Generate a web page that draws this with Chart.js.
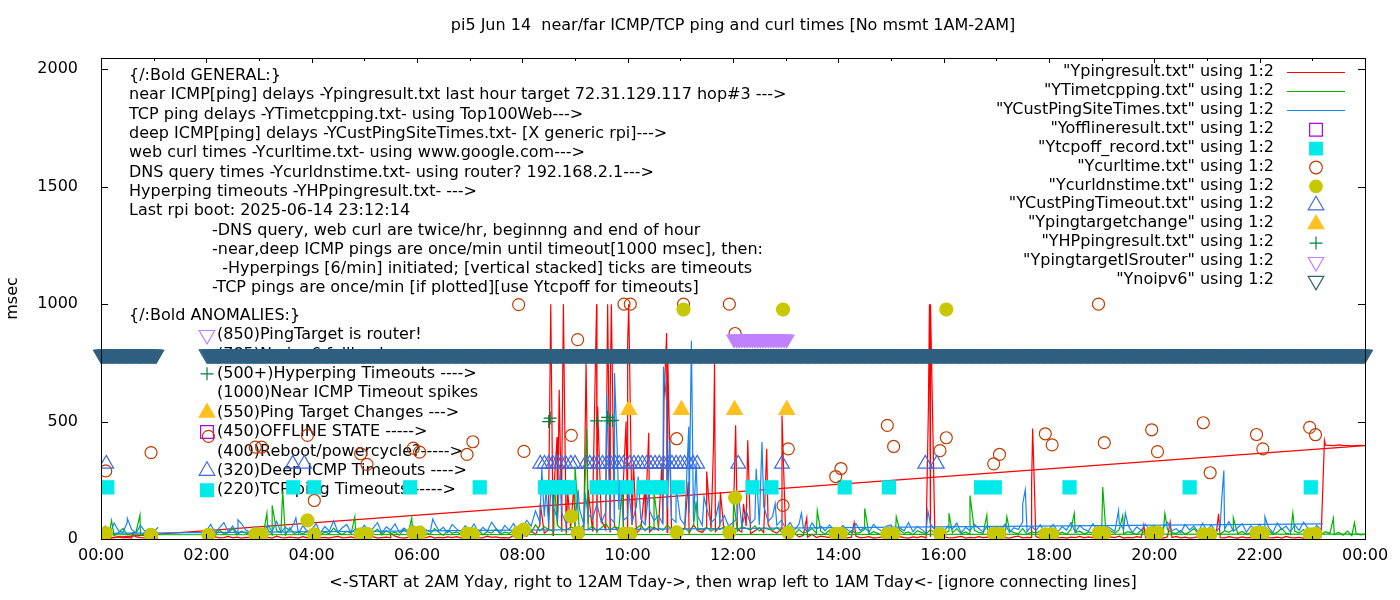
<!DOCTYPE html>
<html>
<head>
<meta charset="utf-8">
<script src="https://cdn.jsdelivr.net/npm/chart.js@4.4.1/dist/chart.umd.min.js"></script>
<style>
html, body { margin: 0; padding: 0; background: #fff; }
#chart { display: block; }
</style>
</head>
<body>
<canvas id="chart" width="1400" height="600"></canvas>
<script>
// x is hours of the day (0..24), y is msec
const xTicks = [0, 2, 4, 6, 8, 10, 12, 14, 16, 18, 20, 22, 24];
const yTicks = [0, 500, 1000, 1500, 2000];

// line series, one value every 5 minutes starting 00:00 (null = no measurement)
const pingBase = [
  5,8,4,6,10,5,7,4,9,6,5,8,
  6,5,null,null,null,null,null,null,null,null,null,null,
  7,4,9,5,6,11,5,8,4,7,6,5,
  9,5,7,4,12,6,5,8,6,4,10,5,
  6,9,5,7,4,8,11,5,6,9,4,7,
  5,7,10,4,6,8,5,12,6,4,7,9,
  8,5,6,11,4,7,5,9,6,10,5,6,
  4,8,6,5,12,7,9,5,6,4,15,8,
  20,12,35,18,60,25,40,15,55,30,22,45,
  30,50,20,65,35,25,80,40,30,55,28,45,
  35,60,25,45,70,30,50,38,65,28,42,55,
  30,45,25,60,35,28,50,40,32,55,26,38,
  25,40,30,55,22,35,48,28,60,33,25,42,
  18,12,25,9,15,8,20,6,12,9,7,10,
  6,9,5,8,12,5,7,10,4,6,9,5,
  7,5,10,6,4,9,6,11,5,8,6,4,
  9,6,5,8,11,4,7,5,10,6,8,5,
  5,8,6,4,9,12,5,7,6,10,4,8,
  6,10,5,7,4,8,6,11,5,9,6,4,
  8,5,9,6,12,4,7,5,10,6,5,8,
  5,7,4,9,6,11,5,8,4,6,10,5,
  7,4,8,6,5,10,6,4,9,5,7,6,
  4,9,6,5,8,4,11,6,5,7,4,9,
  6,5,8,400,399,398,401,399,398,397,398,399,
  398
];
const pingSpikes = [
  [0.6,25],[3.0,30],[5.5,25],
  [8.34,153],[8.50,180],[8.54,1000],[8.59,180],[8.66,434],[8.70,635],[8.75,294],[8.78,1000],
  [8.80,583],[8.86,209],[8.98,230],[9.21,748],[9.25,209],[9.34,188],[9.41,1000],[9.43,564],
  [9.59,273],[9.62,1000],[9.67,635],[9.69,1000],[9.92,251],[9.97,500],[10.0,834],[10.02,1000],
  [10.11,323],[10.33,223],[10.40,452],[10.65,323],[10.69,592],[10.74,877],[10.76,782],[11.15,244],
  [11.50,287],[11.63,400],[11.65,749],[11.76,200],[12.05,484],[12.2,150],[12.28,420],[12.64,384],
  [12.93,526],[13.4,90],[14.3,70],[15.71,556],[15.73,1000],[15.75,1000],[17.67,236],[17.69,470],
  [19.8,60],[20.3,72],[21.22,107],[23.23,420]
];
const pingWrap = [[0, 3], [24, 398]];

const tcpBase = [
  18,22,35,14,28,45,19,24,31,16,26,20,
  22,17,null,null,null,null,null,null,null,null,null,null,
  24,30,16,38,21,27,44,18,33,25,19,36,
  28,22,41,19,35,26,17,48,23,30,20,34,
  25,39,18,29,22,46,27,19,33,24,38,21,
  30,20,27,42,18,35,23,29,17,40,26,22,
  19,33,25,21,44,28,16,37,24,30,20,35,
  27,22,39,18,31,25,43,20,29,24,36,19,
  30,45,28,60,35,52,40,33,58,42,38,50,
  44,36,62,40,55,33,48,65,38,52,45,41,
  50,38,46,60,35,55,42,48,37,58,44,40,
  36,48,30,55,42,38,50,33,46,40,52,35,
  40,33,52,45,38,56,34,48,42,37,50,30,
  28,35,22,40,26,31,45,24,33,20,38,27,
  22,30,19,36,25,28,42,20,31,24,17,34,
  26,21,38,24,30,18,35,27,22,40,25,29,
  20,33,26,44,22,30,19,37,28,24,41,23,
  31,25,20,36,27,22,45,19,30,26,34,21,
  24,38,22,29,19,42,27,33,21,30,25,36,
  28,20,35,24,40,22,31,26,19,37,23,30,
  25,33,21,40,27,23,36,20,30,44,24,28,
  22,30,26,19,35,28,41,23,32,20,27,38,
  30,24,37,21,28,45,25,19,33,26,40,22,
  27,35,20,31,24,18,29,16,34,14,22,18,
  20
];
const tcpSpikes = [
  [0.2,79],[0.74,102],[3.15,110],[3.25,143],[3.45,205],[4.82,95],[5.9,90],[8.6,250],[9.0,310],
  [9.22,470],[9.9,240],[10.5,200],[11.3,160],[12.01,166],[13.6,120],[14.5,130],[15.1,95],
  [16.1,110],[16.5,185],[16.82,102],[17.2,95],[18.48,109],[19.02,221],[19.4,100],[20.2,109],
  [21.5,90],[22.63,111],[23.4,88],[23.8,70]
];
const tcpWrap = [[0, 18], [24, 21]];

const custBase = [
  30,55,24,68,35,28,72,40,26,58,33,45,
  28,50,null,null,null,null,null,null,null,null,null,null,
  35,62,27,48,70,30,55,25,66,38,29,52,
  44,26,60,32,75,28,50,36,68,24,57,31,
  40,65,27,53,33,78,29,48,62,26,44,35,
  58,30,46,70,25,52,38,64,28,47,33,60,
  27,55,40,30,68,35,50,26,62,43,31,57,
  36,64,28,50,33,72,45,27,58,38,66,30,
  48,80,55,120,70,95,60,140,85,110,65,90,
  75,130,60,105,85,150,70,115,90,68,125,80,
  95,70,140,85,60,120,78,100,65,130,88,72,
  85,60,110,75,95,58,130,70,88,64,100,55,
  70,90,55,120,65,85,60,140,75,95,58,80,
  45,70,38,62,50,30,68,42,55,35,60,40,
  32,58,40,27,66,36,50,29,62,44,33,55,
  60,28,47,35,70,31,54,40,26,63,38,49,
  30,56,42,68,27,50,35,62,45,29,58,37,
  52,33,64,28,48,40,72,31,55,36,60,27,
  44,62,30,53,38,70,29,57,41,34,66,39,
  28,55,46,32,68,40,60,27,52,37,63,34,
  58,30,49,71,35,44,26,62,39,55,30,67,
  36,60,28,52,42,74,33,48,65,29,56,40,
  62,34,50,27,68,41,55,30,60,37,72,45,
  33,58,40,null,null,null,null,null,null,null,null,null,
  null
];
const custSpikes = [
  [0.5,88],[2.6,82],[3.7,90],[6.3,85],[8.37,299],[8.45,209],[8.55,237],[8.72,294],[9.06,209],
  [9.2,180],[9.60,619],[9.75,707],[9.8,393],[9.85,251],[10.02,209],[10.2,266],[10.4,209],
  [10.68,734],[10.74,585],[10.8,422],[10.92,223],[11.16,478],[11.21,844],[11.3,323],[11.45,180],
  [11.73,152],[12.1,200],[12.44,299],[12.55,413],[12.8,150],[13.3,110],[15.7,120],[17.5,150],
  [17.55,210],[19.32,121],[19.45,110],[21.28,170],[21.32,292],[22.1,95]
];
const custWrap = [[0, 24], [23.2, 64]];

// point series: [hour, msec]
const offlinePts = [];
const tcpoffHours = [0.12, 3.65, 4.05, 5.87, 7.19, 8.43, 8.54, 8.65, 8.78, 8.89, 9.41, 9.55, 9.69,
  9.98, 10.30, 10.47, 10.63, 10.95, 12.37, 12.73, 14.12, 14.96, 16.71, 16.97, 18.39, 20.67, 22.97];
const tcpoffVal = 220;
const curlPts = [
  [0.09,290],[0.95,368],[2.04,437],[2.93,391],[3.05,391],[3.92,441],[4.05,164],[4.93,363],
  [5.05,318],[5.93,387],[6.05,370],[6.95,360],[7.06,414],[7.93,998],[8.03,373],[8.93,441],
  [9.05,849],[9.93,1000],[10.05,1000],[10.93,427],[11.06,1000],[11.93,1000],[12.04,875],
  [12.95,143],[13.05,384],[13.95,266],[14.05,300],[14.93,484],[15.05,394],[15.93,376],
  [16.05,431],[16.95,320],[17.06,360],[17.93,448],[18.06,401],[18.94,1000],[19.05,410],
  [19.95,465],[20.06,372],[20.93,495],[21.06,282],[21.94,445],[22.06,384],[22.95,475],[23.06,444]
];
const dnsPts = [
  [0.09,25],[0.95,18],[2.04,18],[2.93,20],[3.05,20],[3.92,79],[4.05,20],[4.93,20],[5.05,22],
  [5.93,27],[6.05,27],[6.95,23],[7.06,20],[7.93,28],[8.03,40],[8.93,96],[9.05,25],[9.93,22],
  [10.05,22],[10.93,28],[11.06,977],[11.93,28],[12.04,176],[12.95,977],[13.05,28],[13.95,22],
  [14.05,22],[14.93,22],[15.05,22],[15.93,22],[16.05,977],[16.95,22],[17.06,22],[17.93,20],
  [18.06,20],[18.94,25],[19.05,25],[19.95,25],[20.06,28],[20.93,20],[21.06,20],[21.94,25],
  [22.06,25],[22.95,20],[23.06,22]
];
const custTimeoutHours = [0.1, 3.64, 3.86, 8.34, 8.42, 8.5, 8.58, 8.66, 8.74, 8.82, 8.92, 9.0,
  9.2, 9.28, 9.36, 9.44, 9.52, 9.6, 9.68, 9.76, 9.84, 9.92, 10.04, 10.12, 10.2, 10.28, 10.36,
  10.44, 10.52, 10.6, 10.68, 10.76, 10.84, 10.92, 11.0, 11.08, 11.16, 11.24, 11.32, 12.1, 12.93,
  15.65, 15.87];
const custTimeoutVal = 320;
const targetChangeHours = [10.02, 11.02, 12.03, 13.02];
const targetChangeVal = 550;
const hpPts = [[8.50,500],[8.53,515],[9.41,503],[9.62,518],[9.66,503],[9.71,505]];
const isRouterHours = [12.02, 12.07, 12.12, 12.17, 12.22, 12.27, 12.32, 12.37, 12.42, 12.47, 12.52,
  12.57, 12.62, 12.67, 12.72, 12.77, 12.82, 12.87, 12.92, 12.97, 13.02];
const isRouterVal = 850;
// no-ipv6 flag is logged every minute; runs of [start hour, end hour]
const noipv6Runs = [[0.0, 1.05], [2.03, 24.0]];
const noipv6Val = 785;

const legendLabels = [
  '"Ypingresult.txt" using 1:2', '"YTimetcpping.txt" using 1:2', '"YCustPingSiteTimes.txt" using 1:2',
  '"Yofflineresult.txt" using 1:2', '"Ytcpoff_record.txt" using 1:2', '"Ycurltime.txt" using 1:2',
  '"Ycurldnstime.txt" using 1:2', '"YCustPingTimeout.txt" using 1:2', '"Ypingtargetchange" using 1:2',
  '"YHPpingresult.txt" using 1:2', '"YpingtargetISrouter" using 1:2', '"Ynoipv6" using 1:2'
];
const generalLines = [
  '{/:Bold GENERAL:}',
  'near ICMP[ping] delays -Ypingresult.txt last hour target 72.31.129.117 hop#3 --->',
  'TCP ping delays -YTimetcpping.txt- using Top100Web--->',
  'deep ICMP[ping] delays -YCustPingSiteTimes.txt- [X generic rpi]--->',
  'web curl times -Ycurltime.txt- using www.google.com--->',
  'DNS query times -Ycurldnstime.txt- using router? 192.168.2.1--->',
  'Hyperping timeouts -YHPpingresult.txt- --->',
  'Last rpi boot: 2025-06-14 23:12:14'
];
const noteLines = [
  '-DNS query, web curl are twice/hr, beginnng and end of hour',
  '-near,deep ICMP pings are once/min until timeout[1000 msec], then:',
  '  -Hyperpings [6/min] initiated; [vertical stacked] ticks are timeouts',
  '-TCP pings are once/min [if plotted][use Ytcpoff for timeouts]'
];
const anomalyLines = [
  '(850)PingTarget is router!', '(785)No ipv6 fallback', '(500+)Hyperping Timeouts ---->',
  '(1000)Near ICMP Timeout spikes', '(550)Ping Target Changes --->', '(450)OFFLINE STATE ----->',
  '(400)Reboot/powercycle?----->', '(320)Deep ICMP Timeouts ---->', '(220)TCP ping Timeouts ----->'
];

// styles
const FONT = '16px "DejaVu Sans"';
const C = {
  ping: '#ff0000', tcp: '#00b400', cust: '#1a84f0', offline: '#b000e8', tcpoff: '#00eaea',
  curl: '#c03c00', dns: '#c8c800', custTo: '#4169e1', tchange: '#ffc020', hp: '#008040',
  router: '#c080ff', noipv6: '#306080'
};
const legendStyles = [
  {line: C.ping}, {line: C.tcp}, {line: C.cust},
  {shape: 'rect', r: 9, color: C.offline}, {shape: 'rect', r: 9, color: C.tcpoff, fill: true},
  {shape: 'circle', r: 6.3, color: C.curl}, {shape: 'circle', r: 6.3, color: C.dns, fill: true},
  {shape: 'triangle', r: 9, color: C.custTo}, {shape: 'triangle', r: 9, color: C.tchange, fill: true},
  {shape: 'cross', r: 6.5, color: C.hp}, {shape: 'triDown', r: 9, color: C.router},
  {shape: 'triDown', r: 9, color: C.noipv6}
];
const anomalyMarks = [
  {shape: 'triDown', r: 9, color: C.router}, {shape: 'triDown', r: 9, color: C.noipv6},
  {shape: 'cross', r: 6.5, color: C.hp}, null,
  {shape: 'triangle', r: 9, color: C.tchange, fill: true}, {shape: 'rect', r: 9, color: C.offline},
  null, {shape: 'triangle', r: 9, color: C.custTo}, {shape: 'rect', r: 9, color: C.tcpoff, fill: true}
];

function series(base, spikes) {
  const pts = base.map((v, i) => ({x: i / 12, y: v}));
  spikes.forEach(s => pts.push({x: s[0], y: s[1]}));
  pts.sort((a, b) => a.x - b.x);
  return pts;
}
const xy = arr => arr.map(p => ({x: p[0], y: p[1]}));
const flat = (hours, v) => hours.map(h => ({x: h, y: v}));
function runs(list, v) {
  const pts = [];
  list.forEach(r => {
    for (let m = Math.round(r[0] * 60); m <= Math.round(r[1] * 60); m++) pts.push({x: m / 60, y: v});
  });
  return pts;
}

function lineDs(data, color, order) {
  return {data, borderColor: color, borderWidth: 1.2, pointRadius: 0, order, spanGaps: false};
}
function pointDs(data, style, color, r, fill, order, extra) {
  return Object.assign({
    data, showLine: false, pointStyle: style, pointRadius: r, pointBorderWidth: 1.2,
    pointBorderColor: color, pointBackgroundColor: fill ? color : 'rgba(0,0,0,0)', order
  }, extra || {});
}

function mark(ctx, m, x, y) {
  const r = m.r;
  ctx.save();
  ctx.beginPath();
  ctx.strokeStyle = m.color;
  ctx.fillStyle = m.color;
  ctx.lineWidth = 1.2;
  if (m.shape === 'rect') {
    const s = r * Math.SQRT1_2;
    ctx.rect(x - s, y - s, 2 * s, 2 * s);
  } else if (m.shape === 'circle') {
    ctx.arc(x, y, r, 0, Math.PI * 2);
  } else if (m.shape === 'triangle') {
    ctx.moveTo(x, y - r); ctx.lineTo(x + 0.866 * r, y + r / 2); ctx.lineTo(x - 0.866 * r, y + r / 2);
    ctx.closePath();
  } else if (m.shape === 'triDown') {
    ctx.moveTo(x, y + r); ctx.lineTo(x + 0.866 * r, y - r / 2); ctx.lineTo(x - 0.866 * r, y - r / 2);
    ctx.closePath();
  } else if (m.shape === 'cross') {
    ctx.moveTo(x - r, y); ctx.lineTo(x + r, y); ctx.moveTo(x, y - r); ctx.lineTo(x, y + r);
  }
  if (m.fill) ctx.fill();
  ctx.stroke();
  ctx.restore();
}

const gnuplotDecor = {
  id: 'gnuplotDecor',
  beforeDatasetsDraw(chart) {
    const ctx = chart.ctx;
    ctx.save();
    ctx.font = FONT;
    ctx.fillStyle = '#000';
    ctx.textBaseline = 'middle';
    ctx.textAlign = 'left';
    generalLines.forEach((t, i) => ctx.fillText(t, 129, 76 + i * 19.3));
    noteLines.forEach((t, i) => ctx.fillText(t, 212, 76 + (i + 8) * 19.3));
    ctx.fillText('{/:Bold ANOMALIES:}', 129, 316);
    anomalyLines.forEach((t, i) => {
      const y = 335 + i * 19.4;
      ctx.fillText(t, 217, y);
      if (anomalyMarks[i]) mark(ctx, anomalyMarks[i], 207, y);
    });
    ctx.restore();
  },
  afterDraw(chart) {
    const ctx = chart.ctx;
    const a = chart.chartArea;
    const xs = chart.scales.x, ys = chart.scales.y;
    ctx.save();
    ctx.strokeStyle = '#000';
    ctx.lineWidth = 1;
    ctx.beginPath();
    for (let h = 0; h <= 24; h++) {
      const px = Math.round(xs.getPixelForValue(h)) + 0.5;
      const len = h % 2 === 0 ? 5 : 3;
      ctx.moveTo(px, a.bottom); ctx.lineTo(px, a.bottom - len);
      ctx.moveTo(px, a.top); ctx.lineTo(px, a.top + len);
    }
    yTicks.forEach(v => {
      const py = Math.round(ys.getPixelForValue(v)) + 0.5;
      ctx.moveTo(a.left, py); ctx.lineTo(a.left + 7, py);
      ctx.moveTo(a.right, py); ctx.lineTo(a.right - 7, py);
    });
    ctx.stroke();
    ctx.strokeRect(a.left + 0.5, a.top + 0.5, a.right - a.left, a.bottom - a.top);

    ctx.font = FONT;
    ctx.fillStyle = '#000';
    ctx.textBaseline = 'middle';
    ctx.textAlign = 'center';
    const cx = (a.left + a.right) / 2;
    ctx.fillText('pi5 Jun 14  near/far ICMP/TCP ping and curl times [No msmt 1AM-2AM]', cx, 26);
    ctx.fillText('<-START at 2AM Yday, right to 12AM Tday->, then wrap left to 1AM Tday<- [ignore connecting lines]', cx, 583);
    ctx.save();
    ctx.translate(13, (a.top + a.bottom) / 2);
    ctx.rotate(-Math.PI / 2);
    ctx.fillText('msec', 0, 0);
    ctx.restore();

    ctx.textAlign = 'right';
    legendLabels.forEach((t, i) => {
      const y = 72 + i * 18.9;
      ctx.fillText(t, 1274, y);
      const st = legendStyles[i];
      if (st.line) {
        ctx.beginPath();
        ctx.strokeStyle = st.line;
        ctx.lineWidth = 1.2;
        ctx.moveTo(1287, Math.round(y) + 0.5);
        ctx.lineTo(1345, Math.round(y) + 0.5);
        ctx.stroke();
      } else {
        mark(ctx, st, 1316, y + 1);
      }
    });
    ctx.restore();
  }
};

const hourLabel = v => { const h = v % 24; return (h < 10 ? '0' : '') + h + ':00'; };
const tickFont = {family: 'DejaVu Sans', size: 16};

new Chart(document.getElementById('chart'), {
  type: 'line',
  data: {
    datasets: [
      lineDs(xy(pingWrap), C.ping, 22),
      lineDs(series(pingBase, pingSpikes), C.ping, 21),
      lineDs(xy(tcpWrap), C.tcp, 20),
      lineDs(series(tcpBase, tcpSpikes), C.tcp, 19),
      lineDs(xy(custWrap), C.cust, 18),
      lineDs(series(custBase, custSpikes), C.cust, 17),
      pointDs(xy(offlinePts), 'rect', C.offline, 9, false, 16),
      pointDs(flat(tcpoffHours, tcpoffVal), 'rect', C.tcpoff, 9.2, true, 15),
      pointDs(xy(curlPts), 'circle', C.curl, 6, false, 14),
      pointDs(xy(dnsPts), 'circle', C.dns, 6.5, true, 13),
      pointDs(flat(custTimeoutHours, custTimeoutVal), 'triangle', C.custTo, 8.5, false, 12),
      pointDs(flat(targetChangeHours, targetChangeVal), 'triangle', C.tchange, 9, true, 11),
      pointDs(xy(hpPts), 'cross', C.hp, 6.5, false, 10),
      pointDs(flat(isRouterHours, isRouterVal), 'triangle', C.router, 8.3, true, 9, {pointRotation: 180}),
      pointDs(runs(noipv6Runs, noipv6Val), 'triangle', C.noipv6, 8.5, true, 8, {pointRotation: 180, clip: false})
    ]
  },
  options: {
    responsive: false,
    devicePixelRatio: 1,
    animation: false,
    events: [],
    layout: {padding: {top: 58, right: 35, left: 0, bottom: 0}},
    elements: {line: {tension: 0}},
    plugins: {legend: {display: false}, tooltip: {enabled: false}, title: {display: false}},
    scales: {
      x: {
        type: 'linear', min: 0, max: 24,
        grid: {display: false}, border: {display: false},
        afterBuildTicks: s => { s.ticks = xTicks.map(v => ({value: v})); },
        afterFit: s => { s.height = 61; },
        ticks: {callback: hourLabel, color: '#000', font: tickFont, padding: -1, maxRotation: 0, autoSkip: false}
      },
      y: {
        type: 'linear', min: 0, max: 2048,
        grid: {display: false}, border: {display: false},
        afterBuildTicks: s => { s.ticks = yTicks.map(v => ({value: v})); },
        afterFit: s => { s.width = 101; },
        ticks: {callback: v => String(v), color: '#000', font: tickFont, padding: 15}
      }
    }
  },
  plugins: [gnuplotDecor]
});
</script>
</body>
</html>
